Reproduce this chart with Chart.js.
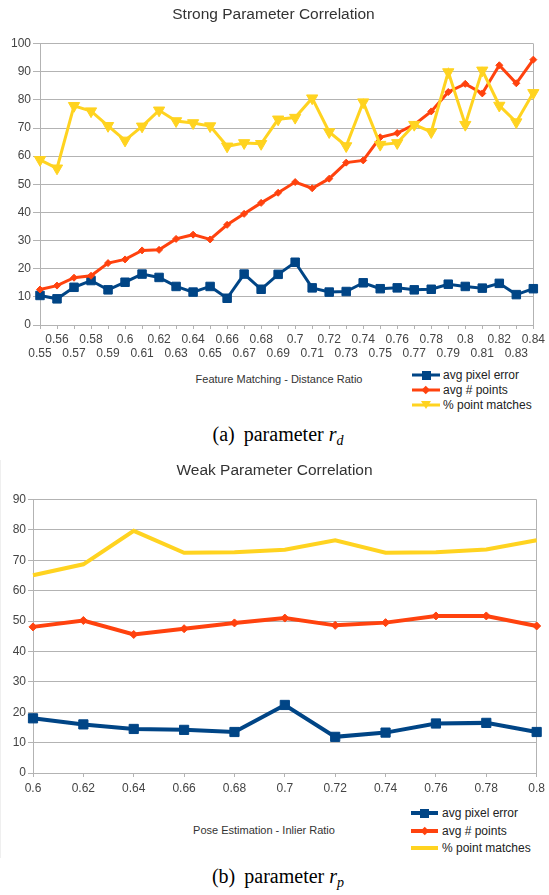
<!DOCTYPE html>
<html>
<head>
<meta charset="utf-8">
<script src="https://cdn.jsdelivr.net/npm/chart.js@4.4.1/dist/chart.umd.min.js"></script>
<style>
body { margin:0; width:549px; height:895px; background:#fff; position:relative; overflow:hidden; font-family:"Liberation Sans", Arial, sans-serif; }
.wrap { position:absolute; }
#wrapA { left:10px; top:0; width:539px; height:365px; }
#wrapB { left:10px; top:455px; width:539px; height:342px; }
#frameB { position:absolute; left:0; top:460px; width:1px; height:398px; background:#efefef; }
.axisTitle { position:absolute; font-size:11px; color:#333; transform:translate(-50%,-50%); white-space:nowrap; }
.legItem { position:absolute; height:16px; font-size:12px; color:#222; white-space:nowrap; }
.legItem .mark { position:absolute; top:0; height:16px; }
.legItem .line { position:absolute; left:0; right:0; top:50%; transform:translateY(-50%); }
.legItem .pt { position:absolute; left:50%; top:50%; }
.legItem .txt { position:absolute; top:0; line-height:16px; }
.caption { position:absolute; font-family:"Liberation Serif", "Times New Roman", serif; font-size:20px; color:#000; transform:translate(-50%,-50%); white-space:nowrap; }
.caption .gap { display:inline-block; width:9px; }
.caption sub { font-size:70%; vertical-align:-0.3em; }
</style>
</head>
<body>
<div id="wrapA" class="wrap"><canvas id="chartA"></canvas></div>
<div class="axisTitle" style="left:279px; top:379px;">Feature Matching - Distance Ratio</div>
<div id="legendA"></div>
<div class="caption" style="left:278px; top:436px;">(a)<span class="gap"></span>parameter <i>r</i><sub><i>d</i></sub></div>

<div id="frameB"></div>
<div id="wrapB" class="wrap"><canvas id="chartB"></canvas></div>
<div class="axisTitle" style="left:264px; top:830px;">Pose Estimation - Inlier Ratio</div>
<div id="legendB"></div>
<div class="caption" style="left:278px; top:878px;">(b)<span class="gap"></span>parameter <i>r</i><sub><i>p</i></sub></div>

<script>
// --- datos (a) Strong Parameter Correlation ---
const xLabelsA = ['0.55','0.56','0.57','0.58','0.59','0.6','0.61','0.62','0.63','0.64',
                  '0.65','0.66','0.67','0.68','0.69','0.7','0.71','0.72','0.73','0.74',
                  '0.75','0.76','0.77','0.78','0.79','0.8','0.81','0.82','0.83','0.84'];
const pixelErrorA = [10.5, 9.3, 13.4, 15.8, 12.5, 15.2, 18.1, 16.9, 13.7, 11.7,
                     13.7, 9.5, 18.1, 12.7, 18.0, 22.3, 13.2, 11.7, 11.9, 15.0,
                     12.9, 13.2, 12.5, 12.7, 14.5, 13.7, 13.1, 14.8, 10.8, 12.9];
const avgPointsA = [12.6, 14.0, 16.8, 17.5, 22.0, 23.3, 26.5, 26.7, 30.6, 32.1,
                    30.4, 35.6, 39.5, 43.4, 47.0, 50.8, 48.6, 52.0, 57.7, 58.5,
                    66.7, 68.2, 71.2, 75.9, 82.8, 85.7, 82.3, 92.3, 85.9, 94.3];
const pointMatchesA = [58.7, 55.7, 77.9, 76.0, 70.8, 65.6, 70.6, 76.3, 72.5, 71.8,
                       70.7, 63.5, 64.7, 64.4, 73.1, 73.7, 80.6, 68.6, 63.6, 79.2,
                       64.1, 64.7, 71.2, 68.6, 89.9, 71.2, 90.5, 78.0, 72.1, 82.5];

// --- datos (b) Weak Parameter Correlation ---
const xLabelsB = ['0.6','0.62','0.64','0.66','0.68','0.7','0.72','0.74','0.76','0.78','0.8'];
const pixelErrorB = [18.0, 16.0, 14.5, 14.2, 13.5, 22.4, 11.9, 13.3, 16.3, 16.5, 13.5];
const avgPointsB = [48.1, 50.2, 45.6, 47.5, 49.4, 51.0, 48.6, 49.5, 51.7, 51.7, 48.4];
const pointMatchesB = [65.1, 68.7, 79.7, 72.5, 72.7, 73.5, 76.6, 72.5, 72.7, 73.6, 76.6];

const seriesNames = ['avg pixel error', 'avg # points', '% point matches'];

// colores
const BLUE = '#004586', RED = '#ff420e', YELLOW = '#ffd320';
const GRID = '#b3b3b3', TICK = '#444';

Chart.defaults.font.family = '"Liberation Sans", Arial, sans-serif';
Chart.defaults.animation = false;

function serie(label, data, color, style, radius, width, order, rot) {
	return {
		label: label, data: data,
		borderColor: color, backgroundColor: color,
		pointBackgroundColor: color, pointBorderColor: color,
		borderWidth: width, pointStyle: style, pointRadius: radius,
		pointBorderWidth: 1, pointRotation: rot || 0,
		tension: 0, clip: false, order: order
	};
}

function makeChart(id, labels, sets, opts) {
	const last = labels.length - 1;
	return new Chart(document.getElementById(id), {
		type: 'line',
		data: { labels: labels, datasets: sets },
		options: {
			responsive: true, maintainAspectRatio: false,
			layout: { padding: { left: 0, right: opts.padRight, top: 0, bottom: 0 } },
			plugins: {
				legend: { display: false },
				tooltip: { enabled: false },
				title: {
					display: true, text: opts.title, color: '#333',
					font: { size: 15.5, weight: 'normal', lineHeight: 1.2 },
					padding: { top: opts.titleTop, bottom: opts.titleBottom }
				}
			},
			scales: {
				x: {
					offset: false,
					grid: {
						color: (c) => c.index === last ? GRID : 'rgba(0,0,0,0)',
						tickColor: GRID, tickLength: 4
					},
					border: { color: GRID },
					ticks: {
						autoSkip: false, maxRotation: 0, minRotation: 0, padding: 4,
						color: TICK, font: { size: 12, lineHeight: opts.xLineHeight },
						callback: opts.xCallback
					},
					afterFit: (s) => { s.height = opts.xHeight; }
				},
				y: {
					min: 0, max: opts.yMax,
					grid: { color: GRID, tickColor: GRID, tickLength: opts.yTickLen },
					border: { color: GRID },
					ticks: { stepSize: 10, padding: 2, color: TICK, font: { size: 12 } },
					afterFit: (s) => { s.width = opts.yWidth; }
				}
			}
		}
	});
}

// Chart (a): etiquetas del eje x en dos filas alternas
const chartA = makeChart('chartA', xLabelsA, [
	serie(seriesNames[0], pixelErrorA, BLUE, 'rect', 6, 3, 3),
	serie(seriesNames[1], avgPointsA, RED, 'rectRot', 3.5, 3, 2),
	serie(seriesNames[2], pointMatchesA, YELLOW, 'triangle', 6.5, 3, 1, 180)
], {
	title: 'Strong Parameter Correlation', titleTop: 5, titleBottom: 20,
	padRight: 12, yMax: 100, yWidth: 30, yTickLen: 7, xHeight: 40, xLineHeight: 1.17,
	xCallback: (v, i) => i % 2 === 0 ? ['', xLabelsA[i]] : [xLabelsA[i], '']
});

// Chart (b)
const chartB = makeChart('chartB', xLabelsB, [
	serie(seriesNames[0], pixelErrorB, BLUE, 'rect', 6.5, 4, 3),
	serie(seriesNames[1], avgPointsB, RED, 'rectRot', 4, 4, 2),
	serie(seriesNames[2], pointMatchesB, YELLOW, false, 0, 4, 1)
], {
	title: 'Weak Parameter Correlation', titleTop: 6, titleBottom: 20,
	padRight: 10, yMax: 90, yWidth: 23, yTickLen: 5, xHeight: 24, xLineHeight: 1.2,
	xCallback: (v, i) => xLabelsB[i]
});

/* Leyenda HTML: se construye a partir de los datasets del chart */
function buildLegend(chart, boxId, x0, lineW, textX, y0, dy, lineH) {
	const box = document.getElementById(boxId);
	chart.data.datasets.forEach((ds, i) => {
		const item = document.createElement('div');
		item.className = 'legItem';
		item.style.left = x0 + 'px';
		item.style.top = (y0 + i * dy - 8) + 'px';
		let pt = '';
		if (ds.pointStyle === 'rect') {
			pt = `<div class="pt" style="width:9px;height:9px;margin:-4.5px 0 0 -4.5px;background:${ds.borderColor}"></div>`;
		} else if (ds.pointStyle === 'rectRot') {
			pt = `<div class="pt" style="width:5.5px;height:5.5px;margin:-2.75px 0 0 -2.75px;background:${ds.borderColor};transform:rotate(45deg)"></div>`;
		} else if (ds.pointStyle === 'triangle') {
			pt = `<div class="pt" style="width:0;height:0;margin:-4px 0 0 -5px;border-left:5px solid transparent;border-right:5px solid transparent;border-top:8px solid ${ds.borderColor}"></div>`;
		}
		item.innerHTML = `<div class="mark" style="left:0;width:${lineW}px"><div class="line" style="height:${lineH}px;background:${ds.borderColor}"></div>${pt}</div>` +
			`<div class="txt" style="left:${textX - x0}px">${ds.label}</div>`;
		box.appendChild(item);
	});
}

buildLegend(chartA, 'legendA', 412, 28, 443, 375, 14.75, 3);
buildLegend(chartB, 'legendB', 411, 27, 442, 813, 17.5, 4);
</script>
</body>
</html>
